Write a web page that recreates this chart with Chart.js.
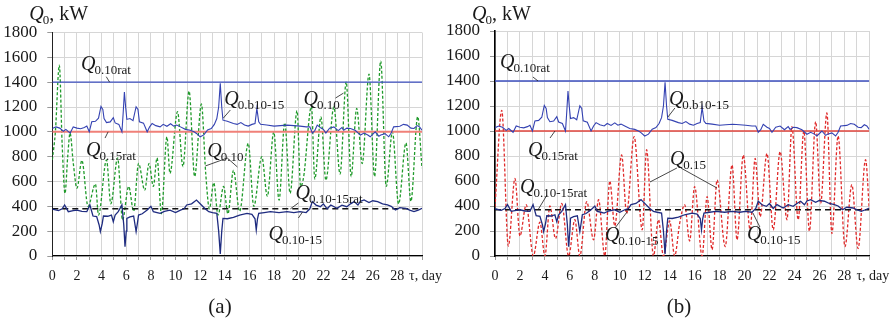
<!DOCTYPE html>
<html>
<head>
<meta charset="utf-8">
<script src="https://cdn.jsdelivr.net/npm/chart.js@4.4.0/dist/chart.umd.min.js"></script>
<style>
  body { margin: 0; background: #fff; width: 891px; height: 321px; overflow: hidden; position: relative; }
  canvas { position: absolute; top: 0; }
  #ca { left: 0; }
  #cb { left: 440px; }
</style>
</head>
<body>
<canvas id="ca" width="450" height="321"></canvas>
<canvas id="cb" width="451" height="321"></canvas>
<script>
// tick labels
var yTicks = [0, 200, 400, 600, 800, 1000, 1200, 1400, 1600, 1800];
var xLabelDays = [0, 2, 4, 6, 8, 10, 12, 14, 16, 18, 20, 22, 24, 26, 28, 30];
var xLabels = ['0','2','4','6','8','10','12','14','16','18','20','22','24','26','28','  τ, day'];

// rated levels, kW
var q10rat = 1400;
var q15rat = 1000;
var q1015ratA = 380;
var q1015ratB = 370;

// Q0.b10-15  [day, kW]
var qb1015 = [[0,1027],[0.3,1040],[0.6,1030],[0.9,1005],[1.1,1020],[1.45,990],[1.7,1040],[2.0,1030],[2.3,1025],[2.6,1035],
  [2.8,1046],[3.0,1000],[3.2,1081],[3.5,1085],[3.75,1110],[3.95,1205],[4.1,1180],[4.2,1107],[4.4,1074],[4.7,1080],
  [4.95,1114],[5.1,1072],[5.4,1060],[5.65,1000],[5.75,1150],[5.85,1320],[5.95,1200],[6.05,1100],[6.3,1107],[6.55,1090],
  [6.8,1202],[6.95,1180],[7.07,1081],[7.4,1070],[7.7,1000],[7.9,1040],[8.1,1067],[8.4,1050],[8.75,1040],[9.0,1060],
  [9.3,1045],[9.6,1065],[9.85,1046],[10.1,1055],[10.4,1040],[10.8,1020],[11.2,1013],[11.5,1000],[11.7,987],[12.0,960],
  [12.3,975],[12.6,1015],[12.9,1027],[13.15,1060],[13.35,1107],[13.5,1200],[13.63,1390],[13.75,1200],[13.85,1094],[14.2,1085],
  [14.7,1067],[15.0,1060],[15.3,1075],[15.6,1055],[15.9,1046],[16.2,1060],[16.45,1067],[16.6,1189],[16.75,1080],[16.9,1061],
  [17.4,1055],[18.0,1046],[18.5,1050],[19.05,1054],[19.6,1050],[20.1,1046],[20.6,1040],[20.9,1040],[21.1,990],[21.3,1010],
  [21.5,1054],[21.8,1030],[22.0,1020],[22.2,990],[22.5,1030],[22.85,1040],[23.2,1010],[23.5,1035],[23.65,1013],[23.9,1030],
  [24.2,1027],[24.6,1010],[25.0,974],[25.3,990],[25.6,975],[25.8,960],[26.2,1000],[26.5,965],[26.65,974],[27.0,985],
  [27.3,960],[27.5,990],[27.7,1040],[28.2,1045],[28.5,1060],[28.8,1054],[29.1,1030],[29.35,1027],[29.6,1050],[29.8,1040],[30,1013]];

// Q0.10-15  [day, kW]
var q1015 = [[0,378],[0.5,365],[0.8,380],[1.0,411],[1.3,357],[1.7,365],[2.0,370],[2.4,360],[2.8,357],[3.05,411],
  [3.3,322],[3.6,317],[3.8,250],[3.9,196],[4.05,260],[4.15,322],[4.5,320],[4.8,330],[4.95,276],[5.1,330],
  [5.35,357],[5.65,411],[5.8,250],[5.9,75],[6.0,200],[6.05,303],[6.3,315],[6.6,322],[6.8,196],[6.9,260],
  [7.0,330],[7.3,340],[7.7,370],[8.0,400],[8.2,357],[8.5,350],[8.75,343],[9.1,360],[9.55,370],[10.0,350],
  [10.4,370],[10.7,380],[10.9,411],[11.3,420],[11.7,451],[12.1,411],[12.4,380],[12.7,357],[13.0,350],[13.35,343],
  [13.5,200],[13.63,16],[13.75,200],[13.85,303],[14.2,300],[14.7,311],[15.2,330],[15.8,343],[16.2,335],[16.45,300],
  [16.55,209],[16.65,300],[16.75,343],[17.2,350],[17.7,357],[18.4,350],[19.05,357],[19.6,350],[20.1,357],[20.6,350],
  [20.9,380],[21.1,438],[21.4,410],[21.75,397],[22.0,420],[22.3,380],[22.6,411],[23.1,384],[23.5,410],[23.9,397],
  [24.2,420],[24.5,438],[24.8,410],[25.0,440],[25.3,451],[25.7,430],[26.0,445],[26.4,438],[26.8,420],[27.2,411],
  [27.5,400],[27.85,370],[28.2,390],[28.7,384],[29.0,370],[29.35,357],[29.7,370],[30,384]];

// Q0.10 (panel a)  [day, kW]
var q10 = [[0,773],[0.25,1000],[0.57,1538],[0.8,900],[1.03,504],[1.25,800],[1.44,990],[1.7,750],[2.0,545],[2.4,770],
  [2.9,400],[3.5,580],[3.75,330],[4.4,773],[4.75,420],[5.3,790],[5.7,290],[6.2,560],[6.6,360],[7.0,745],
  [7.5,530],[7.85,745],[8.2,560],[8.5,790],[8.85,340],[9.3,960],[9.55,665],[10.16,1162],[10.6,720],[11.1,1328],
  [11.55,640],[12.1,1224],[12.45,665],[12.75,380],[13.1,590],[13.45,330],[13.9,560],[14.25,340],[14.7,690],[15.2,360],
  [15.9,908],[16.35,400],[17.0,800],[17.45,480],[17.97,1000],[18.4,450],[18.86,1073],[19.3,505],[19.86,1170],[20.15,560],
  [20.4,640],[21.03,1204],[21.3,620],[21.8,1120],[22.2,610],[22.85,1200],[23.35,660],[23.85,1403],[24.25,640],[24.7,1189],
  [25.15,745],[25.7,1465],[26.15,640],[26.65,1570],[27.1,560],[27.6,1000],[28.1,420],[28.7,910],[29.1,440],[29.65,1122],[30,708]];

// Q0.15 (panel b)  [day, kW]
var q15 = [[0,395],[0.54,1165],[1.07,80],[1.6,620],[2.0,160],[2.5,410],[3.07,0],[3.6,270],[4.0,0],[4.4,400],
  [4.85,140],[5.35,420],[5.9,0],[6.4,290],[6.8,0],[7.35,435],[7.9,130],[8.3,450],[8.8,0],[9.2,600],
  [9.6,240],[10.15,808],[10.55,340],[11.15,955],[11.8,210],[12.15,850],[12.7,0],[13.1,290],[13.5,0],[14.0,280],
  [14.4,0],[14.8,260],[15.2,410],[15.6,120],[16.0,555],[16.6,0],[17.0,475],[17.4,50],[17.8,608],[18.45,75],
  [19.0,728],[19.4,130],[19.9,808],[20.45,210],[20.85,780],[21.25,315],[21.8,820],[22.3,210],[22.85,835],[23.4,290],
  [23.8,1035],[24.3,290],[24.75,1000],[25.2,200],[25.7,1075],[26.1,420],[26.6,1144],[27.0,180],[27.5,960],[28.05,75],
  [28.6,570],[29.1,60],[29.7,770],[30,370]];

// text notes: anchor of the label and its leader lines, in chart units (day, kW)
var notesA = [
  { sub: '0.10rat',    at: [2.33, 1498],  lines: [[[4.38, 1444], [4.65, 1400]]] },
  { sub: '0.b10-15',   at: [13.96, 1216], lines: [[[14.45, 1176], [13.88, 1111]]] },
  { sub: '0.10',       at: [20.38, 1216], lines: [[[22.98, 1272], [23.63, 1312]]] },
  { sub: '0.15rat',    at: [2.74, 805],   lines: [[[4.28, 950], [4.53, 1000]]] },
  { sub: '0.10',       at: [12.58, 797],  lines: [[[12.42, 725], [14.2, 789], [15.02, 717]]] },
  { sub: '0.10-15rat', at: [19.73, 459],  lines: [[[19.97, 427], [19.32, 380]]] },
  { sub: '0.10-15',    at: [17.54, 129],  lines: [[[19.97, 306], [20.3, 354]]] }
];
var notesB = [
  { sub: '0.10rat',    at: [0.4, 1504],   lines: [[[3.04, 1432], [3.45, 1400]]] },
  { sub: '0.b10-15',   at: [13.94, 1208], lines: [[[14.42, 1184], [13.86, 1112]]] },
  { sub: '0.15rat',    at: [2.64, 800],   lines: [[[4.41, 944], [4.81, 1000]]] },
  { sub: '0.15',       at: [14.02, 728],  lines: [[[14.58, 704], [12.42, 592]], [[14.9, 704], [17.79, 544]]] },
  { sub: '0.10-15rat', at: [2.0, 504],    lines: [[[4.17, 488], [3.45, 370]]] },
  { sub: '0.10-15',    at: [8.81, 120],   lines: [[[9.62, 224], [10.58, 352]]] },
  { sub: '0.10-15',    at: [20.19, 128],  lines: [[[21.23, 232], [20.67, 344]]] }
];

var SERIF = 'Liberation Serif';
Chart.defaults.font.family = SERIF;

function pts(arr) { return arr.map(function (p) { return { x: p[0], y: p[1] }; }); }
function flat(v) { return [{ x: 0, y: v }, { x: 30, y: v }]; }

function drawQ(ctx, x, y, sub, tail) {
  ctx.font = 'italic 20px "' + SERIF + '"';
  ctx.fillText('Q', x, y);
  var w = ctx.measureText('Q').width;
  ctx.font = '13px "' + SERIF + '"';
  ctx.fillText(sub, x + w - 1, y + 4);
  if (tail) {
    var ws = ctx.measureText(sub).width;
    ctx.font = '20px "' + SERIF + '"';
    ctx.fillText(tail, x + w - 1 + ws, y);
  }
}

var notePlugin = {
  id: 'notes',
  afterDatasetsDraw: function (chart, args, o) {
    var ctx = chart.ctx, xs = chart.scales.x, ys = chart.scales.y;
    ctx.save();
    ctx.fillStyle = '#1a1a1a';
    ctx.strokeStyle = '#1a1a1a';
    ctx.lineWidth = 0.8;
    ctx.textAlign = 'left';
    ctx.textBaseline = 'alphabetic';
    o.items.forEach(function (n) {
      n.lines.forEach(function (pl) {
        ctx.beginPath();
        pl.forEach(function (p, i) {
          var px = xs.getPixelForValue(p[0]), py = ys.getPixelForValue(p[1]);
          if (i) ctx.lineTo(px, py); else ctx.moveTo(px, py);
        });
        ctx.stroke();
      });
      drawQ(ctx, xs.getPixelForValue(n.at[0]), ys.getPixelForValue(n.at[1]), n.sub);
    });
    // axis title and panel letter
    drawQ(ctx, chart.chartArea.left - 23, 20, '0', ', kW');
    ctx.font = '21px "' + SERIF + '"';
    ctx.textAlign = 'center';
    ctx.fillText(o.tag, o.tagX, 313);
    ctx.restore();
  }
};

function makeChart(id, cfg) {
  var line = function (data, color, width, dash, smooth) {
    return {
      data: data, borderColor: color, borderWidth: width, borderDash: dash || [],
      pointRadius: 0, fill: false, tension: 0,
      cubicInterpolationMode: smooth ? 'monotone' : 'default'
    };
  };
  return new Chart(document.getElementById(id), {
    type: 'line',
    data: {
      datasets: [
        line(pts(q1015), '#1f2c80', 1.3),
        line(flat(cfg.ratLow), '#111111', 1.6, [6, 4]),
        line(pts(qb1015), '#3442b2', 1.1),
        line(flat(q10rat), '#3d4fbf', 1.3),
        line(flat(q15rat), cfg.redLine, cfg.redWidth),
        line(pts(cfg.wave), cfg.waveColor, 1.3, [3, 2], true)
      ]
    },
    options: {
      responsive: false,
      animation: false,
      layout: { padding: cfg.pad },
      plugins: {
        legend: { display: false },
        tooltip: { enabled: false },
        notes: { items: cfg.notes, tag: cfg.tag, tagX: cfg.tagX }
      },
      scales: {
        x: {
          type: 'linear', min: 0, max: 30,
          afterFit: function (s) { s.height = 30; s.paddingLeft = 0; s.paddingRight = 0; },
          afterBuildTicks: function (s) {
            s.ticks = [];
            for (var d = 0; d <= 30; d++) s.ticks.push({ value: d });
          },
          ticks: {
            autoSkip: false, maxRotation: 0, padding: 8, color: '#1a1a1a',
            font: { family: SERIF, size: 14 },
            callback: function (v) {
              var i = xLabelDays.indexOf(v);
              return i < 0 ? '' : xLabels[i];
            }
          },
          grid: { color: '#d6d6d6', lineWidth: 1, tickLength: 4, tickColor: '#999' },
          border: { color: '#000', width: 1.2 }
        },
        y: {
          min: 0, max: 1800,
          afterFit: function (s) { s.width = cfg.yWidth; s.paddingTop = 0; s.paddingBottom = 0; },
          afterBuildTicks: function (s) {
            s.ticks = [];
            for (var v = 0; v <= 1800; v += 100) s.ticks.push({ value: v });
          },
          ticks: {
            padding: 10, color: '#1a1a1a',
            font: { family: SERIF, size: 17 },
            callback: function (v) { return yTicks.indexOf(v) < 0 ? '' : String(v); }
          },
          grid: { color: '#d6d6d6', lineWidth: 1, tickLength: 5, tickColor: '#999' },
          border: { color: cfg.yAxisColor, width: cfg.yAxisWidth }
        }
      }
    },
    plugins: [notePlugin]
  });
}

makeChart('ca', {
  wave: q10, waveColor: '#1f9a2a', ratLow: q1015ratA,
  redLine: '#f08078', redWidth: 2,
  notes: notesA, tag: '(a)', tagX: 220,
  pad: { left: 0, right: 28, top: 32.5, bottom: 35 }, yWidth: 52.3,
  yAxisColor: '#222', yAxisWidth: 1
});
makeChart('cb', {
  wave: q15, waveColor: '#e02a2a', ratLow: q1015ratB,
  redLine: '#e0453c', redWidth: 1.5,
  notes: notesB, tag: '(b)', tagX: 239,
  pad: { left: 0, right: 21.7, top: 31, bottom: 35 }, yWidth: 55,
  yAxisColor: '#000', yAxisWidth: 1.6
});
</script>
</body>
</html>
